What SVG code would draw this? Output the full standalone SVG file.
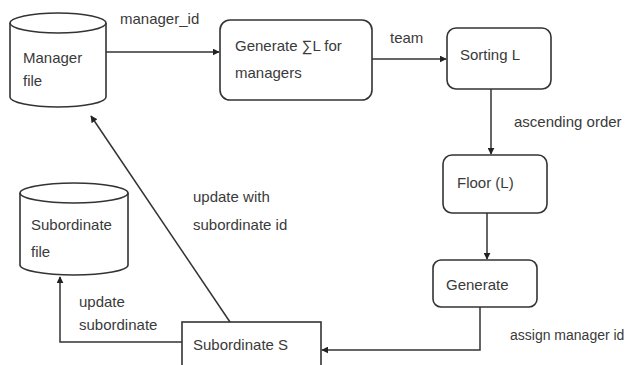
<svg xmlns="http://www.w3.org/2000/svg" width="631" height="365" viewBox="0 0 631 365">
<style>
text{font-family:"Liberation Sans",Arial,sans-serif;font-size:15px;fill:#3a3a3a}
.n{fill:#fff;stroke:#333;stroke-width:1.6}
.c{fill:none;stroke:#333;stroke-width:1.5}
</style>
<defs>
<marker id="a" viewBox="0 0 10 10" refX="9" refY="5" markerWidth="7" markerHeight="7" markerUnits="userSpaceOnUse" orient="auto">
<path d="M0,0L10,5L0,10z" fill="#222"/>
</marker>
</defs>
<rect width="631" height="365" fill="#fff"/>
<g id="manager-file">
<path class="n" d="M10,23 A48,10 0 0 1 106,23 L106,97 A48,10 0 0 1 10,97 Z"/>
<path class="n" fill="none" d="M10,23 A48,10 0 0 0 106,23"/>
<text x="23" y="63">Manager</text>
<text x="23" y="86">file</text>
</g>
<g id="generate-sum">
<rect class="n" x="220" y="20" width="152" height="80" rx="10"/>
<text x="235" y="51">Generate ∑L for</text>
<text x="235" y="78">managers</text>
</g>
<g id="sorting">
<rect class="n" x="447" y="28" width="104" height="61" rx="9"/>
<text x="460" y="60">Sorting L</text>
</g>
<g id="floor">
<rect class="n" x="443" y="155" width="104" height="58" rx="9"/>
<text x="457" y="188">Floor (L)</text>
</g>
<g id="generate">
<rect class="n" x="433" y="260" width="104" height="47" rx="8"/>
<text x="446" y="290">Generate</text>
</g>
<g id="subordinate-s">
<rect class="n" x="182" y="322" width="139" height="50"/>
<text x="193" y="350">Subordinate S</text>
</g>
<g id="subordinate-file">
<path class="n" d="M20,193 A54,10 0 0 1 128,193 L128,265 A54,10 0 0 1 20,265 Z"/>
<path class="n" fill="none" d="M20,193 A54,10 0 0 0 128,193"/>
<text x="31" y="230">Subordinate</text>
<text x="31" y="257">file</text>
</g>
<g id="connectors">
<path class="c" d="M106,52H219" marker-end="url(#a)"/>
<path class="c" d="M372,59H446" marker-end="url(#a)"/>
<path class="c" d="M491,89V154" marker-end="url(#a)"/>
<path class="c" d="M487,213V259" marker-end="url(#a)"/>
<path class="c" d="M480,307V350H322" marker-end="url(#a)"/>
<path class="c" d="M182,342H60V277" marker-end="url(#a)"/>
<path class="c" d="M230,322L91,116" marker-end="url(#a)"/>
<text x="120" y="24">manager_id</text>
<text x="390" y="43">team</text>
<text x="514" y="127">ascending order</text>
<text x="510" y="340" style="font-size:14px">assign manager id</text>
<text x="79" y="307">update</text>
<text x="79" y="330">subordinate</text>
<text x="193" y="202">update with</text>
<text x="193" y="230">subordinate id</text>
</g>
</svg>
